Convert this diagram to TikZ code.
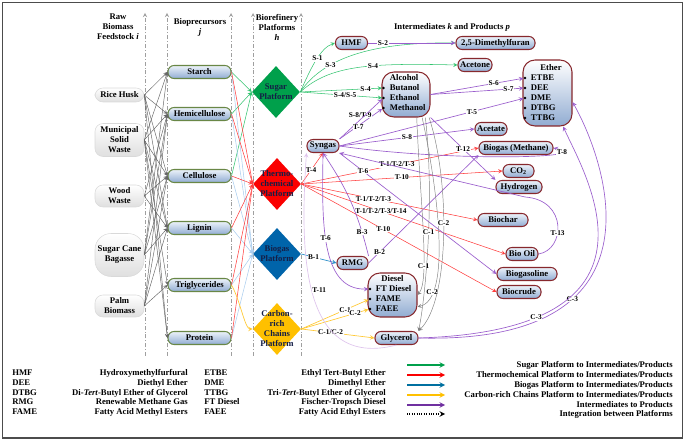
\documentclass[tikz,border=0pt]{standalone}
\usepackage{fontspec}
\setmainfont{Liberation Serif}
\usetikzlibrary{positioning,shapes.geometric}

\definecolor{sugarfill}{RGB}{0,160,75}
\definecolor{thermofill}{RGB}{250,0,0}
\definecolor{biogasfill}{RGB}{0,100,170}
\definecolor{carbonfill}{RGB}{255,192,0}
\definecolor{sugarln}{RGB}{50,195,110}
\definecolor{thermoln}{RGB}{255,60,60}
\definecolor{biogasln}{RGB}{40,140,200}
\definecolor{precln}{RGB}{170,205,238}
\definecolor{carbonln}{RGB}{255,200,50}
\definecolor{purpln}{RGB}{155,95,205}
\definecolor{paleln}{RGB}{222,195,236}
\definecolor{legpurp}{RGB}{112,48,160}
\definecolor{legblue}{RGB}{0,112,160}
\definecolor{boxtop}{RGB}{236,242,250}
\definecolor{boxbot}{RGB}{145,172,210}
\definecolor{rededge}{RGB}{135,40,45}
\definecolor{greenedge}{RGB}{105,135,70}
\definecolor{plattxt}{RGB}{20,30,70}

\begin{document}
\begin{tikzpicture}%
    [x=0.75pt, y=-0.75pt,
    >=stealth,
    font=\bfseries\fontsize{6.5}{7.5}\selectfont,
    wd/.style={minimum width=#1*0.75pt},
    ht/.style={minimum height=#1*0.75pt},
    feedstock/.style={draw=gray!30, top color=white, bottom color=gray!25, rounded corners=6pt, align=center, inner sep=0pt, wd=49},
    precursor/.style={draw=greenedge, thick, top color=boxtop, bottom color=boxbot, rounded corners=4.5pt, wd=63, ht=13, inner sep=0pt},
    product/.style={draw=rededge, thick, top color=boxtop, bottom color=boxbot, rounded corners=4.5pt, ht=13, inner sep=1pt},
    groupbox/.style={draw=rededge, thick, top color=white, bottom color=boxbot, rounded corners=9pt},
    platform/.style={diamond, wd=48, ht=52, inner sep=0pt},
    plattext/.style={align=center, text=plattxt},
    member/.style={anchor=west, inner sep=0.5pt},
    bullet/.style={circle, fill=black, inner sep=0pt, minimum size=2pt},
    lab/.style={font=\bfseries\fontsize{5.5}{6}\selectfont, text=black, fill=white, inner sep=0.4pt},
    header/.style={align=center},
    column/.style={->, gray!75, dash pattern=on 3pt off 1.5pt on 0.6pt off 1.5pt},
    feedln/.style={->, black!60, line width=0.35pt},
    toS/.style={->, sugarln, line width=0.4pt},
    toT/.style={->, thermoln, line width=0.4pt},
    toB/.style={->, biogasln, line width=0.5pt},
    toBp/.style={->, precln, line width=0.4pt},
    toC/.style={->, carbonln, line width=0.5pt},
    toP/.style={->, purpln, line width=0.5pt},
    toPale/.style={->, paleln, line width=0.5pt},
    toG/.style={->, black!50, line width=0.35pt},
    legS/.style={->, sugarfill, line width=0.8pt},
    legT/.style={->, thermofill, line width=0.8pt},
    legB/.style={->, legblue, line width=0.8pt},
    legC/.style={->, carbonfill, line width=0.8pt},
    legP/.style={->, legpurp, line width=0.8pt},
    legI/.style={->, black, densely dotted, line width=0.8pt}
    ]
    \useasboundingbox (0,0) rectangle (685,441);
    \draw[gray!60!black, line width=1.2pt] (2.5,2.5) rectangle (682.5,438);

    % headers and column guides
    \node[header] (hfeed) at (118,27)   {Raw\\Biomass\\Feedstock \textit{i}};
    \node[header] (hprec) at (200,27.5) {Bioprecursors\\\textit{j}};
    \node[header] (hplat) at (277,27)   {Biorefinery\\Platforms\\\textit{h}};
    \node[header] (hprod) at (452,27)   {Intermediates \textit{k} and Products \textit{p}};
    \foreach \x in {145,167,231,253,301}
        \draw[column] (\x,356) -- (\x,13);

    % raw biomass
    \node[feedstock, ht=14] (rice)    at (119.5,95)  {Rice Husk};
    \node[feedstock, ht=33] (msw)     at (119.5,140) {Municipal\\Solid\\Waste};
    \node[feedstock, ht=22] (wood)    at (119.5,196) {Wood\\Waste};
    \node[feedstock, ht=43, rounded corners=12pt] (bagasse) at (119.5,255) {Sugar Cane\\Bagasse};
    \node[feedstock, ht=22] (palm)    at (119.5,306) {Palm\\Biomass};

    % bioprecursors
    \node[precursor] (starch)    at (199.5,72)  {Starch};
    \node[precursor] (hemi)      at (199.5,114) {Hemicellulose};
    \node[precursor] (cellulose) at (199.5,176) {Cellulose};
    \node[precursor] (lignin)    at (199.5,228) {Lignin};
    \node[precursor] (trig)      at (199.5,285) {Triglycerides};
    \node[precursor] (protein)   at (199.5,338) {Protein};

    % platforms
    \node[platform, fill=sugarfill]  (sugarP)  at (276,92)  {};
    \node[platform, fill=thermofill] (thermoP) at (277,184) {};
    \node[platform, fill=biogasfill] (biogasP) at (277,254) {};
    \node[platform, fill=carbonfill] (carbonP) at (277,329) {};
    \node[plattext] (sugarT)  at (sugarP)  {Sugar\\Platform};
    \node[plattext] (thermoT) at (thermoP) {Thermo-\\chemical\\Platform};
    \node[plattext] (biogasT) at (biogasP) {Biogas\\Platform};
    \node[plattext] (carbonT) at (carbonP) {Carbon-\\rich\\Chains\\Platform};

    % intermediates and products
    \node[product, wd=32] (hmf)         at (351.5,43) {HMF};
    \node[product, wd=79] (dmf)         at (495.5,43) {2,5-Dimethylfuran};
    \node[product, wd=34] (acetone)     at (475,65)   {Acetone};
    \node[product, wd=32] (syngas)      at (323,146)  {Syngas};
    \node[product, wd=32] (acetate)     at (491,129)  {Acetate};
    \node[product, wd=74] (methane)     at (516,148)  {Biogas (Methane)};
    \node[product, wd=31] (co2)         at (518.5,171){CO\textsubscript{2}};
    \node[product, wd=46] (hydrogen)    at (519,187)  {Hydrogen};
    \node[product, wd=50] (biochar)     at (503,220)  {Biochar};
    \node[product, wd=32] (biooil)      at (522,254)  {Bio Oil};
    \node[product, wd=60] (biogasoline) at (527,274)  {Biogasoline};
    \node[product, wd=44] (biocrude)    at (519,292)  {Biocrude};
    \node[product, wd=31] (rmg)         at (352.5,263){RMG};
    \node[product, wd=43] (glycerol)    at (396.5,338){Glycerol};

    \node[groupbox, wd=48, ht=45] (alcohol) at (406,94.5) {};
    \node[member] (alctitle) at (389,78)  {Alcohol};
    \node[member] (butanol)  at (389,88)  {Butanol};
    \node[member] (ethanol)  at (389,98)  {Ethanol};
    \node[member] (methanol) at (389,108) {Methanol};
    \node[bullet] (b-but)  at (383.5,88)  {};
    \node[bullet] (b-eth)  at (383.5,98)  {};
    \node[bullet] (b-meth) at (383.5,108) {};

    \node[groupbox, wd=49, ht=66] (ether) at (547.5,93) {};
    \node (ethtitle) at (551,68) {Ether};
    \node[member] (etbe) at (530,78)  {ETBE};
    \node[member] (dee)  at (530,88)  {DEE};
    \node[member] (dme)  at (530,98)  {DME};
    \node[member] (dtbg) at (530,108) {DTBG};
    \node[member] (ttbg) at (530,118) {TTBG};
    \node[bullet] (b-etbe) at (525,78)  {};
    \node[bullet] (b-dee)  at (525,88)  {};
    \node[bullet] (b-dme)  at (525,98)  {};
    \node[bullet] (b-dtbg) at (525,108) {};
    \node[bullet] (b-ttbg) at (525,118) {};

    \node[groupbox, wd=49, ht=44] (diesel) at (392.5,295) {};
    \node (dieseltitle) at (392.5,279) {Diesel};
    \node[member] (ftd)  at (375,289) {FT Diesel};
    \node[member] (fame) at (375,299) {FAME};
    \node[member] (faee) at (375,309) {FAEE};
    \node[bullet] (b-ftd)  at (370,289) {};
    \node[bullet] (b-fame) at (370,299) {};
    \node[bullet] (b-faee) at (370,309) {};

    % feedstock -> bioprecursors
    \foreach \f/\p in {rice/starch, rice/hemi, rice/cellulose, rice/lignin, rice/protein,
                       msw/starch, msw/hemi, msw/cellulose, msw/lignin, msw/trig, msw/protein,
                       wood/hemi, wood/cellulose, wood/lignin,
                       bagasse/starch, bagasse/hemi, bagasse/cellulose, bagasse/lignin,
                       palm/hemi, palm/cellulose, palm/lignin, palm/trig}
        \draw[feedln] (\f.east) -- (\p.west);

    % bioprecursors -> platforms
    \foreach \p in {starch, hemi, cellulose}
        \draw[toS] (\p.east) -- (sugarP.west);
    \foreach \p in {starch, hemi, cellulose, lignin, trig, protein}
        \draw[toBp] (\p.east) -- (biogasP.west);
    \foreach \p in {starch, hemi, cellulose, lignin, trig, protein}
        \draw[toT] (\p.east) -- (thermoP.west);
    \draw[toC] (trig.east) .. controls (240,300) and (245,329) .. (carbonP.west);

    % platforms -> intermediates/products
    \draw[toS] (sugarP.east) .. controls (310,70) and (320,48) .. node[lab, pos=.55] {S-1} (hmf.west);
    \draw[toS] (sugarP.east) .. controls (325,55) and (380,42) .. node[lab, pos=.3] {S-3} (dmf.west);
    \draw[toS] (sugarP.east) .. controls (330,65) and (370,63) .. node[lab, pos=.6] {S-4} (acetone.west);
    \path
    % FROM            STYLE               LABEL                                   TO
    (sugarP.east)     edge[toS]     node[lab, pos=.8]  {S-4}                 (b-but)
    (sugarP.east)     edge[toS]     node[lab, pos=.55] {S-4/S-5}             (b-eth)
    (thermoP.east)    edge[toT]     node[lab, pos=.45] {T-4}                 (syngas.south)
    (thermoP.east)    edge[toT]     node[lab, pos=.54] {T-1/T-2/T-3}         (methane.west)
    (thermoP.east)    edge[toT]     node[lab, pos=.5]  {T-10}                (co2.west)
    (thermoP.east)    edge[toT]     node[lab, pos=.41] {T-1/T-2/T-3}         (biochar.west)
    (thermoP.east)    edge[toT]     node[lab, pos=.39] {T-1/T-2/T-3/T-14}    (biooil.west)
    (thermoP.east)    edge[toT]     node[lab, pos=.42] {T-10}                (biocrude.west)
    (biogasP.east)    edge[toB]     node[lab, pos=.35] {B-1}                 (rmg.west)
    (carbonP.east)    edge[toC]     node[lab, pos=.65] {C-1}                 (b-fame)
    (carbonP.east)    edge[toC]     node[lab, pos=.8]  {C-2}                 (b-faee)
    (carbonP.east)    edge[toC]     node[lab, pos=.4]  {C-1/C-2}             (glycerol.west)
    ;

    % intermediates -> products
    \path
    (hmf.east)             edge[toP]     node[lab, pos=.17] {S-2}              (dmf.west)
    (syngas.north east)    edge[toP]     node[lab, pos=.8, left=1pt] {S-8/T-9} (b-meth)
    (syngas.north east)    edge[toP]     node[lab, pos=.3, right] {T-7}        (b-eth)
    (syngas.east)          edge[toP]     node[lab, pos=.5]  {S-8}              (acetate.west)
    (syngas.east)          edge[toP]     node[lab, pos=.72] {T-5}              (b-dme)
    (alcohol.east)         edge[toP]     node[lab, pos=.68] {S-6}              (b-etbe)
    (alcohol.east)         edge[toP]     node[lab, pos=.84] {S-7}              (b-dee)
    (alcohol.south east)   edge[toP]     node[lab, pos=.5]  {T-12}             (hydrogen.north west)
    (syngas.south east)    edge[toP]     node[lab, pos=.15] {T-6}              (biogasoline.west)
    (rmg.east)             edge[toP]     node[lab, pos=.1]  {B-2}              (methane.south west)
    (rmg.north east)       edge[toP, bend right=10] node[lab, pos=.2] {B-3}   (syngas.south)
    ;
    \draw[toP] (syngas.east) .. controls (450,162) and (600,158) .. node[lab, pos=.85] {T-8} (methane.east);
    \draw[toP] (biooil.east) .. controls (565,250) and (568,200) .. node[lab, pos=.4] {T-13} (525,197) -- (syngas.south east);
    \draw[toP] (syngas.south) .. controls (322,220) and (320,290) .. node[lab, pos=.45] {T-6} (b-ftd);
    \draw[toPale] (glycerol.south) .. controls (300,370) and (300,250) .. node[lab, pos=.52, right] {T-11} (syngas.south west);
    \draw[toP] (glycerol.east) .. controls (680,345) and (600,150) .. node[lab, pos=.3] {C-3} (ether.-20);
    \draw[toP] (glycerol.east) .. controls (680,330) and (585,175) .. node[lab, pos=.2] {C-3} (ether.-65);

    % integration via alcohols
    \draw[toG] (alcohol.-65) .. controls (420,200) and (430,280) .. node[lab, pos=.7]  {C-1} (diesel.east);
    \draw[toG] (alcohol.-55) .. controls (440,200) and (450,300) .. node[lab, pos=.8]  {C-2} (diesel.-25);
    \draw[toG] (alcohol.-50) .. controls (435,200) and (425,300) .. node[lab, pos=.45] {C-1} (glycerol.north east);
    \draw[toG] (alcohol.-45) .. controls (450,180) and (450,300) .. node[lab, pos=.45] {C-2} (glycerol.north east);

    % abbreviations
    \foreach \ya/\aA/\dA/\aB/\dB [count=\i] in {
        373/HMF/Hydroxymethylfurfural/ETBE/Ethyl Tert-Butyl Ether,
        383/DEE/Diethyl Ether/DME/Dimethyl Ether,
        393/DTBG/{Di-\textit{Tert}-Butyl Ether of Glycerol}/TTBG/{Tri-\textit{Tert}-Butyl Ether of Glycerol},
        402/RMG/Renewable Methane Gas/FT Diesel/Fischer-Tropsch Diesel,
        412/FAME/Fatty Acid Methyl Esters/FAEE/Fatty Acid Ethyl Esters}
    {
        \node[anchor=west, inner sep=0pt] (abA\i) at (12,\ya)  {\aA};
        \node[anchor=east, inner sep=0pt] (dfA\i) at (188,\ya) {\dA};
        \node[anchor=west, inner sep=0pt] (abB\i) at (204,\ya) {\aB};
        \node[anchor=east, inner sep=0pt] (dfB\i) at (386,\ya) {\dB};
    }

    % legend
    \foreach \s/\ya/\txt [count=\i] in {
        legS/365/{Sugar Platform to Intermediates/Products},
        legT/375/{Thermochemical Platform to Intermediates/Products},
        legB/385/{Biogas Platform to Intermediates/Products},
        legC/395/{Carbon-rich Chains Platform to Intermediates/Products},
        legP/405/{Intermediates to Products},
        legI/414/{Integration between Platforms}}
    {
        \coordinate (la\i) at (407,\ya);
        \coordinate (lb\i) at (445,\ya);
        \node[anchor=east, inner sep=0pt] (lt\i) at (673,\ya) {\txt};
        \draw[\s] (la\i) -- (lb\i);
    }
\end{tikzpicture}
\end{document}
